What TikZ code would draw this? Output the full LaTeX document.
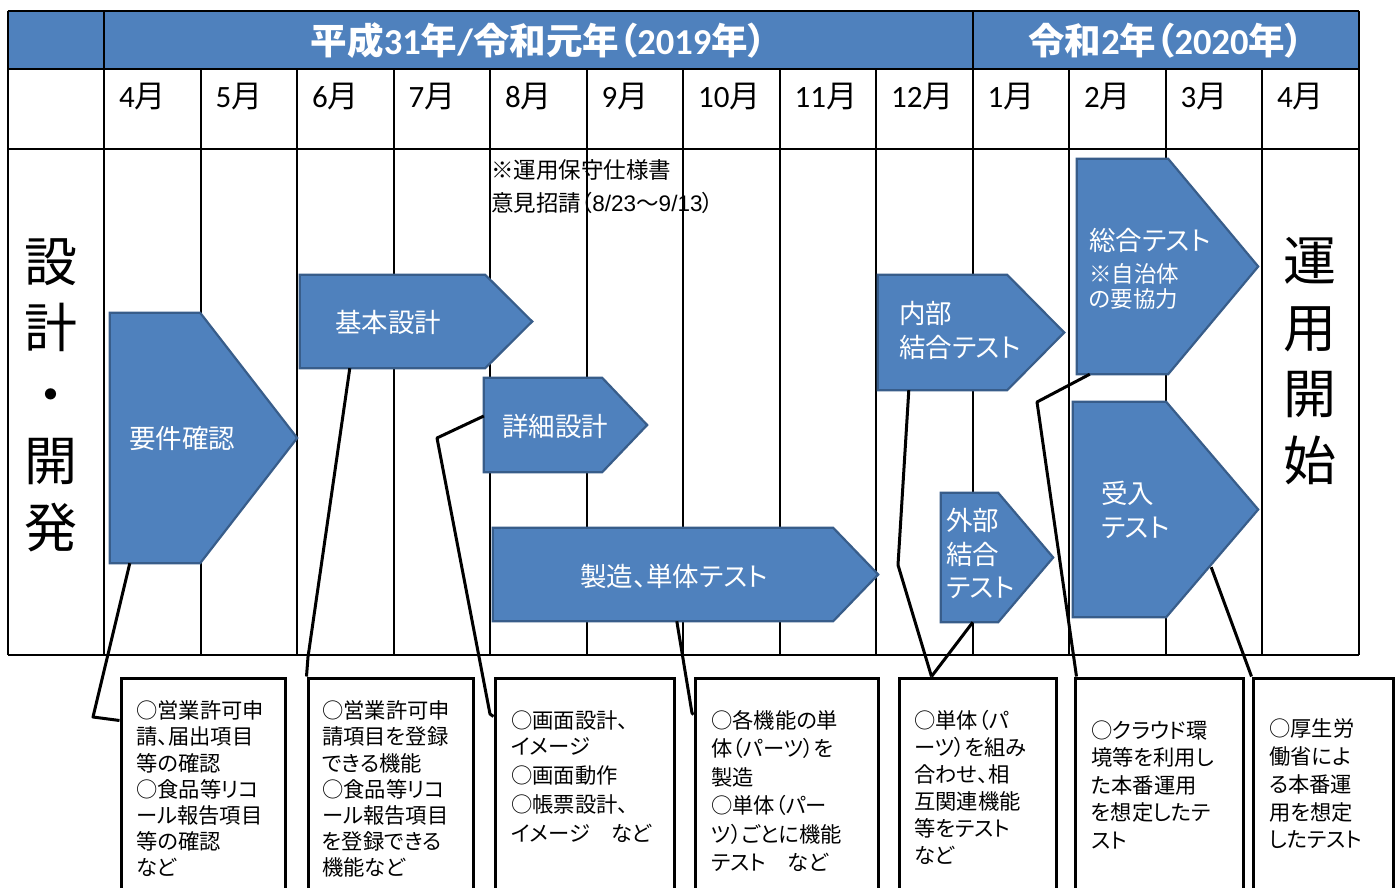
\documentclass[tikz,border=0pt]{standalone}
\usepackage{fontspec}
\setmainfont{Noto Sans CJK JP}[RawFeature=+palt]
\newfontfamily\calfont{Carlito}
\newfontfamily\arialfont{Liberation Sans}
\usetikzlibrary{fit,calc}
\definecolor{pfill}{HTML}{4F81BD}
\definecolor{pline}{HTML}{385D8A}
\newcommand\nm[1]{{\calfont #1}}
\newcommand\fs[2]{\fontsize{#1}{#2}\selectfont}
\newcommand\mkpent[4]{%
  \node[fit={#2 #3}, inner sep=0pt] (#1) {};
  \draw[pent] (#1.north west) -- ([xshift=-#4pt]#1.north east) -- (#1.east)
    -- ([xshift=-#4pt]#1.south east) -- (#1.south west) -- cycle;}
\begin{document}
\begin{tikzpicture}[x=1pt,y=-1pt,
  grid/.style={line width=2pt, draw=black},
  pent/.style={fill=pfill, draw=pline, line width=2.2pt},
  ptext/.style={text=white, inner sep=0pt, font=\fs{26.5}{34}},
  ptextl/.style={ptext, anchor=west, align=left},
  month/.style={anchor=west, inner sep=0pt, font=\fs{31}{32}},
  bigv/.style={inner sep=0pt, align=center, font=\fs{53}{66.5}},
  callout/.style={draw=black, line width=3pt, fill=white, inner sep=0pt},
  ctext/.style={anchor=north west, inner sep=0pt, align=left},
  conn/.style={line width=3pt, draw=black, line join=round}]
\useasboundingbox (0,0) rectangle (1400,888);
\clip (0,0) rectangle (1400,888);
\fill[white] (0,0) rectangle (1400,888);
% header fill
\fill[pfill] (7.5,11) rectangle (1358.8,69);
% grid lines
\foreach \yy in {11,69,149,655} \draw[grid] (7.5,\yy) -- (1358.8,\yy);
\foreach \xx in {7.5,104.3,972.8,1358.8} \draw[grid] (\xx,11) -- (\xx,655);
\foreach \i in {1,...,12} \draw[grid] ({104.3+96.5*\i},69) -- ({104.3+96.5*\i},655);
% header texts
\node[text=white, inner sep=0pt, font=\fs{36.5}{38}\bfseries] (y2019) at (538.5,41) {平成\nm{31}年\nm{/}令和元年（\nm{2019}年）};
\node[text=white, inner sep=0pt, font=\fs{36.5}{38}\bfseries] (y2020) at (1165.8,41) {令和\nm{2}年（\nm{2020}年）};
% months
\foreach \m [count=\i from 0] in {4,5,6,7,8,9,10,11,12,1,2,3,4}
  \node[month] (m\i) at ({119*1+96.5*\i},97) {\nm{\m}月};
% side texts
\node[bigv] (lefttxt) at (51,395) {設\\計\\・\\開\\発};
\node[bigv] (righttxt) at (1310,361) {運\\用\\開\\始};
% note
\node[anchor=west, inner sep=0pt, align=left, font=\fs{22.5}{33}] (note) at (491,186.5)
  {※運用保守仕様書\\意見招請（{\arialfont 8/23}～{\arialfont 9/13}）};
% pentagons
\mkpent{req}{(110,313)}{(297,563)}{97}
\mkpent{basic}{(300,275)}{(532,368)}{47}
\mkpent{detail}{(484,378)}{(647,472)}{45}
\mkpent{impl}{(493,528)}{(878,621)}{45}
\mkpent{inner}{(878,275)}{(1064,390)}{57}
\mkpent{total}{(1077,159)}{(1258,374)}{90}
\mkpent{outer}{(941,493)}{(1053,622)}{55}
\mkpent{accept}{(1073,402)}{(1258,617)}{92}
\node[ptext] (reqt) at (182,438) {要件確認};
\node[ptext] (basict) at (388,322) {基本設計};
\node[ptext] (detailt) at (555,426) {詳細設計};
\node[ptext] (implt) at (674,576) {製造、単体テスト};
\node[ptextl] (innert) at (899,330) {内部\\結合テスト};
\node[ptext, anchor=west] (totalt) at (1089,240) {総合テスト};
\node[ptextl, font=\fs{22.5}{25}] (totaln) at (1089,286) {※自治体\\の要協力};
\node[ptextl, font=\fs{26.5}{33.5}] (outert) at (946,553.5) {外部\\結合\\テスト};
\node[ptextl] (acceptt) at (1101,510) {受入\\テスト};
% callout boxes
\node[callout, fit={(121,678) (285,910)}] (c1) {};
\node[callout, fit={(308,678) (473,910)}] (c2) {};
\node[callout, fit={(495,678) (674,910)}] (c3) {};
\node[callout, fit={(695,678) (878,910)}] (c4) {};
\node[callout, fit={(899,678) (1056,910)}] (c5) {};
\node[callout, fit={(1075,678) (1243,910)}] (c6) {};
\node[callout, fit={(1253,678) (1393,910)}] (c7) {};
% connectors
\coordinate (k1) at (93,717);
\coordinate (k2) at (308,657);
\coordinate (k3) at (437,438);
\coordinate (k3b) at (490,714);
\coordinate (k4) at (692,713);
\coordinate (k5) at (898,565);
\coordinate (k6) at (1037,402);
\draw[conn] ($(req.south west)+(20,0)$) -- (k1) -- ($(c1.north west)+(0,44)$);
\draw[conn] ($(basic.south west)+(50,0)$) -- (k2) -- (c2.north west);
\draw[conn] ($(detail.west)+(0,-9)$) -- (k3) -- (k3b) -- ($(c3.north west)+(0,40)$);
\draw[conn] ($(impl.south west)+(184,0)$) -- (k4) -- ($(c4.north west)+(0,38)$);
\draw[conn] ($(inner.south west)+(31,0)$) -- (k5) -- ($(c5.north west)+(34,0)$);
\draw[conn] ($(outer.south west)+(32,0)$) -- ($(c5.north west)+(34,0)$);
\draw[conn] ($(total.south west)+(13,0)$) -- (k6) -- ($(c6.north west)+(3,0)$);
\draw[conn] ($(accept.south east)+(-47,-50)$) -- (c7.north west);
% callout texts
\node[ctext, font=\fs{21.3}{26.2}] (t1) at (136,700.5) {○営業許可申\\請、届出項目\\等の確認\\○食品等リコ\\ール報告項目\\等の確認\\など};
\node[ctext, font=\fs{21.3}{26.2}] (t2) at (322,700.5) {○営業許可申\\請項目を登録\\できる機能\\○食品等リコ\\ール報告項目\\を登録できる\\機能など};
\node[ctext, font=\fs{21.3}{29}] (t3) at (511,710.5) {○画面設計、\\[-3pt]イメージ\\○画面動作\\○帳票設計、\\イメージ　など};
\node[ctext, font=\fs{21.3}{28.5}] (t4) at (711,710) {○各機能の単\\体（パーツ）を\\製造\\○単体（パー\\ツ）ごとに機能\\テスト　など};
\node[ctext, font=\fs{21.3}{27}] (t5) at (914,710.5) {○単体（パ\\ーツ）を組み\\合わせ、相\\互関連機能\\等をテスト\\など};
\node[ctext, font=\fs{21.3}{27.5}] (t6) at (1091,720.5) {○クラウド環\\境等を利用し\\た本番運用\\を想定したテ\\スト};
\node[ctext, font=\fs{21.3}{27.8}] (t7) at (1269,718.5) {○厚生労\\働省によ\\る本番運\\用を想定\\したテスト};
\end{tikzpicture}
\end{document}
